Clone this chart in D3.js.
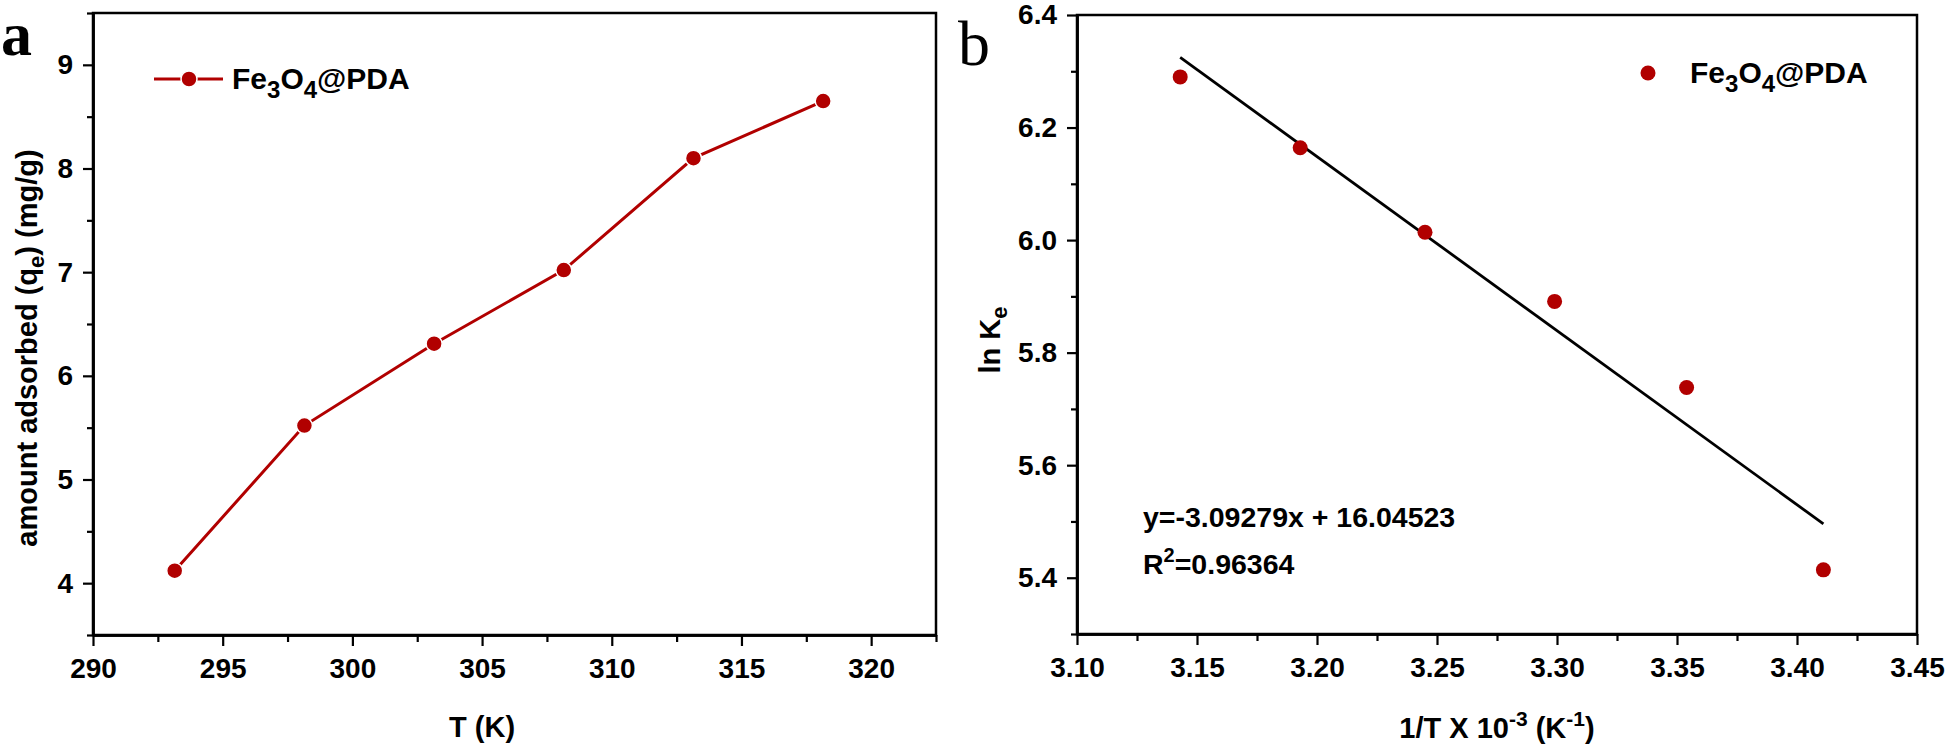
<!DOCTYPE html>
<html>
<head>
<meta charset="utf-8">
<script src="https://cdn.jsdelivr.net/npm/d3@7"></script>
<style>
  body { margin: 0; background: #fff; }
  svg text { font-family: "Liberation Sans", Arial, sans-serif; font-weight: bold; fill: #000; }
</style>
</head>
<body>
<svg id="chart" width="1946" height="747"></svg>
<script>
// ---------- data ----------
const temperatures = [293.15, 298.15, 303.15, 308.15, 313.15, 318.15];
const amountAdsorbed = [4.12, 5.52, 6.31, 7.02, 8.10, 8.65];

const invT = [3.143, 3.193, 3.245, 3.299, 3.354, 3.411];
const lnKe = [6.290, 6.164, 6.014, 5.891, 5.738, 5.414];
const fitSlope = -3.09279;
const fitIntercept = 16.04523;
const fitR2 = "0.96364";

const aXTicks = [290, 295, 300, 305, 310, 315, 320];
const aXMinor = [292.5, 297.5, 302.5, 307.5, 312.5, 317.5, 322.5];
const aYTicks = [4, 5, 6, 7, 8, 9];
const aYMinor = [3.5, 4.5, 5.5, 6.5, 7.5, 8.5, 9.5];
const bXTicks = [3.10, 3.15, 3.20, 3.25, 3.30, 3.35, 3.40, 3.45];
const bXMinor = [3.125, 3.175, 3.225, 3.275, 3.325, 3.375, 3.425];
const bYTicks = [5.4, 5.6, 5.8, 6.0, 6.2, 6.4];
const bYMinor = [5.3, 5.5, 5.7, 5.9, 6.1, 6.3];

const seriesName = ["Fe", "3", "O", "4", "@PDA"];

// ---------- setup ----------
const red = "#b10000";
const svg = d3.select("#chart");

function drawFrame(g, x, y, xTicks, xMinor, yTicks, yMinor, xFmt, yFmt) {
  const [x0, x1] = x.range();
  const [y0, y1] = y.range(); // y0 bottom, y1 top
  // frame
  g.append("rect").attr("x", x0).attr("y", y1).attr("width", x1 - x0).attr("height", y0 - y1)
    .attr("fill", "none").attr("stroke", "#000").attr("stroke-width", 2.5);
  // minor ticks
  const xm = g.append("g").attr("transform", `translate(0,${y0})`)
    .call(d3.axisBottom(x).tickValues(xMinor).tickSize(7).tickSizeOuter(0).tickFormat(""));
  const ym = g.append("g").attr("transform", `translate(${x0},0)`)
    .call(d3.axisLeft(y).tickValues(yMinor).tickSize(6).tickSizeOuter(0).tickFormat(""));
  // major
  const xa = g.append("g").attr("transform", `translate(0,${y0})`)
    .call(d3.axisBottom(x).tickValues(xTicks).tickSize(11).tickPadding(12).tickSizeOuter(0).tickFormat(xFmt));
  const ya = g.append("g").attr("transform", `translate(${x0},0)`)
    .call(d3.axisLeft(y).tickValues(yTicks).tickSize(10).tickPadding(10).tickSizeOuter(0).tickFormat(yFmt));
  [xm, ym, xa, ya].forEach(a => {
    a.selectAll("path").attr("stroke", "#000").attr("stroke-width", 2.5);
    a.selectAll("line").attr("stroke", "#000").attr("stroke-width", 2.2);
    a.selectAll("text").style("font-size", "28px").attr("fill", "#000");
  });
}

function subText(sel, parts, baseSize, subSize, shift) {
  // parts: array of [text, mode] where mode: 0 normal, 1 sub, -1 sup
  let cur = 0;
  parts.forEach(([t, m]) => {
    const target = m === 1 ? shift : (m === -1 ? -shift * 1.3 : 0);
    sel.append("tspan").attr("dy", target - cur)
      .style("font-size", (m === 0 ? baseSize : subSize) + "px").text(t);
    cur = target;
  });
}

// ---------- panel a ----------
const ga = svg.append("g");
const xa = d3.scaleLinear().domain([290, 322.5]).range([93, 936]);
const ya = d3.scaleLinear().domain([3.5, 9.5]).range([635, 13]);
drawFrame(ga, xa, ya, aXTicks, aXMinor, aYTicks, aYMinor, d3.format("d"), d3.format("d"));

const pa = temperatures.map((t, i) => [t, amountAdsorbed[i]]);
ga.append("path").datum(pa)
  .attr("d", d3.line().x(d => xa(d[0])).y(d => ya(d[1])))
  .attr("fill", "none").attr("stroke", red).attr("stroke-width", 3);
ga.selectAll("circle.pt").data(pa).join("circle").attr("class", "pt")
  .attr("cx", d => xa(d[0])).attr("cy", d => ya(d[1])).attr("r", 8)
  .attr("fill", red).attr("stroke", "#fff").attr("stroke-width", 1.5);

// legend a
ga.append("line").attr("x1", 154).attr("x2", 223).attr("y1", 79).attr("y2", 79)
  .attr("stroke", red).attr("stroke-width", 3);
ga.append("circle").attr("cx", 189).attr("cy", 79).attr("r", 8).attr("fill", red)
  .attr("stroke", "#fff").attr("stroke-width", 1.5);
subText(ga.append("text").attr("x", 232).attr("y", 89),
  [[seriesName[0], 0], [seriesName[1], 1], [seriesName[2], 0], [seriesName[3], 1], [seriesName[4], 0]], 30, 24, 9);

// axis titles a
ga.append("text").attr("x", xa(305) + 0).attr("y", 737).attr("text-anchor", "middle")
  .style("font-size", "29px").text("T (K)");
const yla = ga.append("text").attr("transform", "translate(37,348) rotate(-90)").attr("text-anchor", "middle");
subText(yla, [["amount adsorbed (q", 0], ["e", 1], [") (mg/g)", 0]], 29, 22, 7);

// panel letter a
svg.append("text").attr("x", 1).attr("y", 55)
  .style("font-family", "'Liberation Serif', 'Times New Roman', serif").style("font-size", "62px")
  .style("font-weight", "bold").text("a");

// ---------- panel b ----------
const gb = svg.append("g");
const xb = d3.scaleLinear().domain([3.10, 3.45]).range([1077, 1917]);
const yb = d3.scaleLinear().domain([5.3, 6.4]).range([634, 15]);
drawFrame(gb, xb, yb, bXTicks, bXMinor, bYTicks, bYMinor, d3.format(".2f"), d3.format(".1f"));

// fit line
const fx = d3.extent(invT);
const fitPts = fx.map(v => [v, fitSlope * v + fitIntercept]);
gb.append("path").datum(fitPts)
  .attr("d", d3.line().x(d => xb(d[0])).y(d => yb(d[1])))
  .attr("stroke", "#000").attr("stroke-width", 2.8).attr("fill", "none");

const pb = invT.map((v, i) => [v, lnKe[i]]);
gb.selectAll("circle.pt").data(pb).join("circle").attr("class", "pt")
  .attr("cx", d => xb(d[0])).attr("cy", d => yb(d[1])).attr("r", 7.5).attr("fill", red);

// legend b
gb.append("circle").attr("cx", 1648).attr("cy", 73).attr("r", 7.5).attr("fill", red);
subText(gb.append("text").attr("x", 1690).attr("y", 83),
  [[seriesName[0], 0], [seriesName[1], 1], [seriesName[2], 0], [seriesName[3], 1], [seriesName[4], 0]], 30, 24, 9);

// equation
gb.append("text").attr("x", 1143).attr("y", 527).style("font-size", "28.5px")
  .text(`y=${fitSlope}x + ${fitIntercept.toFixed(5)}`);
subText(gb.append("text").attr("x", 1143).attr("y", 574),
  [["R", 0], ["2", -1], ["=" + fitR2, 0]], 28.5, 20, 9);

// axis titles b
const xlb = gb.append("text").attr("x", 1497).attr("y", 738).attr("text-anchor", "middle");
subText(xlb, [["1/T X 10", 0], ["-3", -1], [" (K", 0], ["-1", -1], [")", 0]], 29, 21, 9);
const ylb = gb.append("text").attr("transform", "translate(1000,340) rotate(-90)").attr("text-anchor", "middle");
subText(ylb, [["ln K", 0], ["e", 1]], 29, 22, 7);

// panel letter b
svg.append("text").attr("x", 958).attr("y", 65)
  .style("font-family", "'Liberation Serif', 'Times New Roman', serif").style("font-size", "64px")
  .style("font-weight", "normal").text("b");
</script>
</body>
</html>
